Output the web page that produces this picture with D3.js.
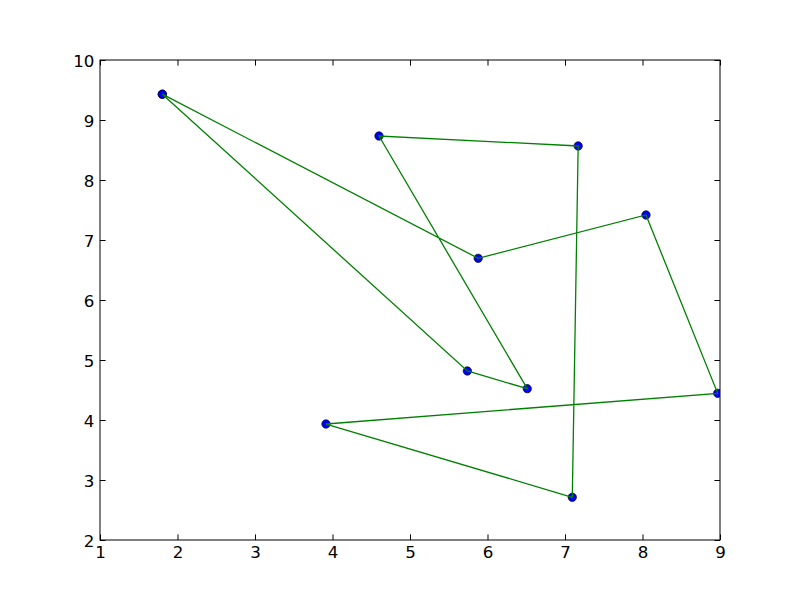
<!DOCTYPE html>
<html><head><meta charset="utf-8">
<script src="https://cdn.jsdelivr.net/npm/d3@7"></script>
<style>body{margin:0;background:#fff}svg{display:block}</style>
</head><body>
<svg id="c" width="800" height="600"></svg>
<script>
const xs = [1.804, 5.88, 8.045, 8.97, 3.916, 7.094, 7.17, 4.6, 6.513, 5.74, 1.804];
const ys = [9.43, 6.695, 7.417, 4.445, 3.933, 2.712, 8.567, 8.733, 4.522, 4.817, 9.43];
const xTicks = [1,2,3,4,5,6,7,8,9];
const yTicks = [2,3,4,5,6,7,8,9,10];

const svg = d3.select("#c");
const L=100,R=720,T=60,B=540;
const FS = 16.67, TL = 5.6, PAD = 5.6;
const x = d3.scaleLinear().domain([1,9]).range([L,R]);
const y = d3.scaleLinear().domain([2,10]).range([B,T]);
svg.append("rect").attr("width",800).attr("height",600).attr("fill","#fff");
svg.append("clipPath").attr("id","clip").append("rect").attr("x",L).attr("y",T).attr("width",R-L).attr("height",B-T);
const pts = xs.map((v,i)=>[v,ys[i]]);
const g = svg.append("g").attr("clip-path","url(#clip)");
g.selectAll("circle").data(pts).join("circle")
  .attr("cx",d=>x(d[0])).attr("cy",d=>y(d[1])).attr("r",4.17)
  .attr("fill","#0000ff").attr("stroke","#000").attr("stroke-width",0.7);
g.append("path").datum(pts).attr("d",d3.line().x(d=>x(d[0])).y(d=>y(d[1])))
  .attr("fill","none").attr("stroke","#008000").attr("stroke-width",1.3);

function ax(axis, tr){
  const a = svg.append("g").attr("transform",tr).call(axis);
  a.select(".domain").remove();
  a.attr("font-size",FS).attr("font-family","'DejaVu Sans', sans-serif");
  a.selectAll("line").attr("stroke","#000").attr("stroke-width",1);
  a.selectAll("text").attr("fill","#000");
  return a;
}
const xb = ax(d3.axisBottom(x).tickValues(xTicks).tickSizeInner(-TL).tickPadding(0).tickFormat(d3.format("d")),`translate(0,${B})`);
xb.selectAll("text").attr("y",PAD).attr("dy","0.76em");
ax(d3.axisTop(x).tickValues(xTicks).tickSizeInner(-TL).tickFormat(""),`translate(0,${T})`);
const yl = ax(d3.axisLeft(y).tickValues(yTicks).tickSizeInner(-TL).tickPadding(0).tickFormat(d3.format("d")),`translate(${L},0)`);
yl.selectAll("text").attr("x",-PAD).attr("dy","0.36em");
ax(d3.axisRight(y).tickValues(yTicks).tickSizeInner(-TL).tickFormat(""),`translate(${R},0)`);
svg.append("rect").attr("x",L).attr("y",T).attr("width",R-L).attr("height",B-T)
  .attr("fill","none").attr("stroke","#000").attr("stroke-width",1);
</script>
</body></html>
